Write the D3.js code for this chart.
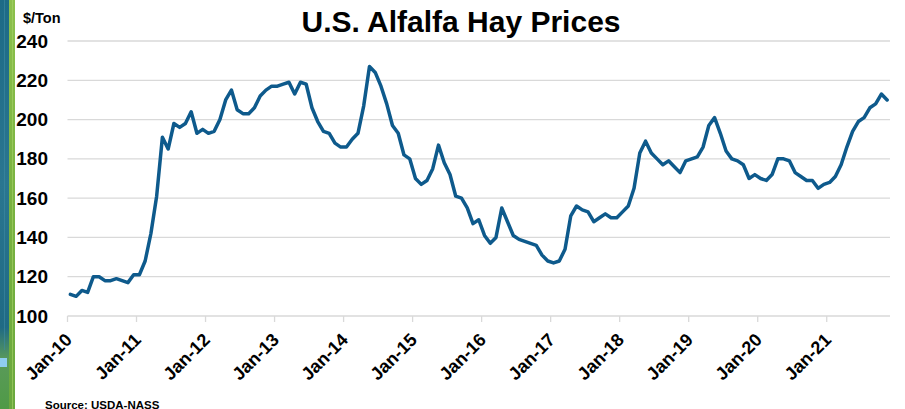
<!DOCTYPE html>
<html><head><meta charset="utf-8">
<script src="https://cdn.jsdelivr.net/npm/d3@7/dist/d3.min.js"></script>
<style>
html,body{margin:0;padding:0;background:#fff;}
svg{display:block;font-family:"Liberation Sans",Arial,sans-serif;}
</style></head>
<body>
<svg id="chart" width="905" height="409"></svg>
<script>
const title = "U.S. Alfalfa Hay Prices";
const yUnit = "$/Ton";
const source = "Source: USDA-NASS";
const years = ["10","11","12","13","14","15","16","17","18","19","20","21"];
const monthNames = ["Jan","Feb","Mar","Apr","May","Jun","Jul","Aug","Sep","Oct","Nov","Dec"];
const yTicks = [100,120,140,160,180,200,220,240];
const tickLabels = ["Jan-10","Jan-11","Jan-12","Jan-13","Jan-14","Jan-15","Jan-16","Jan-17","Jan-18","Jan-19","Jan-20","Jan-21"];
// Monthly prices Jan-10 .. Nov-21
const prices = [
 111,110,113,112,120,120,118,118,119,118,117,121,
 121,128,142,161,191,185,198,196,198,204,193,195,
 193,194,200,210,215,205,203,203,206,212,215,217,
 217,218,219,213,219,218,206,199,194,193,188,186,
 186,190,193,207,227,224,217,208,197,193,182,180,
 170,167,169,175,187,178,172,161,160,155,147,149,
 141,137,140,155,148,141,139,138,137,136,131,128,
 127,128,134,151,156,154,153,148,150,152,150,150,
 153,156,165,183,189,183,180,177,179,176,173,179,
 180,181,186,197,201,193,184,180,179,177,170,172,
 170,169,172,180,180,179,173,171,169,169,165,167,
 168,171,177,186,194,199,201,206,208,213,210
];
const categories = prices.map((d,i)=> monthNames[i%12] + "-" + years[Math.floor(i/12)]);

const svg = d3.select("#chart");

// left decorative strip
const deco = svg.append("g");
const defs = svg.append("defs");
const g1 = defs.append("linearGradient").attr("id","teal").attr("x1",0).attr("x2",0).attr("y1",0).attr("y2",1);
g1.append("stop").attr("offset","0%").attr("stop-color","#1d6a86");
g1.append("stop").attr("offset","45%").attr("stop-color","#2a7690");
g1.append("stop").attr("offset","80%").attr("stop-color","#1f6a84");
g1.append("stop").attr("offset","88%").attr("stop-color","#5a9a5a");
g1.append("stop").attr("offset","100%").attr("stop-color","#4f9a46");
const g2 = defs.append("linearGradient").attr("id","grn").attr("x1",0).attr("x2",0).attr("y1",0).attr("y2",1);
g2.append("stop").attr("offset","0%").attr("stop-color","#8cc04c");
g2.append("stop").attr("offset","50%").attr("stop-color","#79b240");
g2.append("stop").attr("offset","100%").attr("stop-color","#6aa83e");
deco.append("rect").attr("x",0).attr("y",0).attr("width",9).attr("height",409).attr("fill","url(#teal)");
deco.append("rect").attr("x",9).attr("y",0).attr("width",6).attr("height",409).attr("fill","url(#grn)");
deco.append("rect").attr("x",0).attr("y",358).attr("width",7).attr("height",9).attr("fill","#8fcdf0");
deco.append("rect").attr("x",4).attr("y",0).attr("width",1).attr("height",350).attr("fill","#3f8aa3").attr("opacity",0.6);
deco.append("rect").attr("x",12).attr("y",0).attr("width",1).attr("height",409).attr("fill","#a8d36a").attr("opacity",0.6);

const x = d3.scaleBand().domain(d3.range(prices.length)).range([67.5, 890]);
const y = d3.scaleLinear().domain([100,240]).range([316, 41]);

// gridlines
svg.append("g").selectAll("line").data(yTicks).join("line")
  .attr("x1",67.5).attr("x2",890)
  .attr("y1",d=>y(d)).attr("y2",d=>y(d))
  .attr("stroke","#d9d9d9").attr("stroke-width",1.3);

// y labels
svg.append("g").selectAll("text").data(yTicks).join("text")
  .attr("x",48).attr("y",d=>y(d)+6.5)
  .attr("text-anchor","end")
  .attr("font-size",19).attr("font-weight","bold").attr("fill","#000")
  .text(d=>d);

svg.append("text").attr("x",23).attr("y",22.5).attr("font-size",14.5).attr("font-weight","bold").text(yUnit);

// x ticks
const tickIdx = d3.range(0, prices.length+1, 12);
svg.append("g").selectAll("line").data(tickIdx).join("line")
  .attr("x1",d=> d < prices.length ? x(d) : 890).attr("x2",d=> d < prices.length ? x(d) : 890)
  .attr("y1",316).attr("y2",322)
  .attr("stroke","#d9d9d9").attr("stroke-width",1.3);

svg.append("g").selectAll("text").data(tickLabels).join("text")
  .attr("transform",(d,i)=>`translate(${x(i*12)+5.5},${341}) rotate(-45)`)
  .attr("text-anchor","end")
  .attr("font-size",18).attr("font-weight","bold").attr("fill","#000")
  .text(d=>d);

// line
const line = d3.line().x((d,i)=>x(i)+x.bandwidth()/2).y(d=>y(d)).curve(d3.curveLinear);
svg.append("path").datum(prices).attr("d",line)
  .attr("fill","none").attr("stroke","#0e5a8c").attr("stroke-width",3.5)
  .attr("stroke-linejoin","round").attr("stroke-linecap","round");

// title
svg.append("text").attr("x",461).attr("y",32).attr("text-anchor","middle")
  .attr("font-size",30).attr("font-weight","bold").attr("fill","#000").text(title);

svg.append("text").attr("x",45).attr("y",408.5).attr("font-size",11.5).attr("font-weight","bold").text(source);
</script>
</body></html>
